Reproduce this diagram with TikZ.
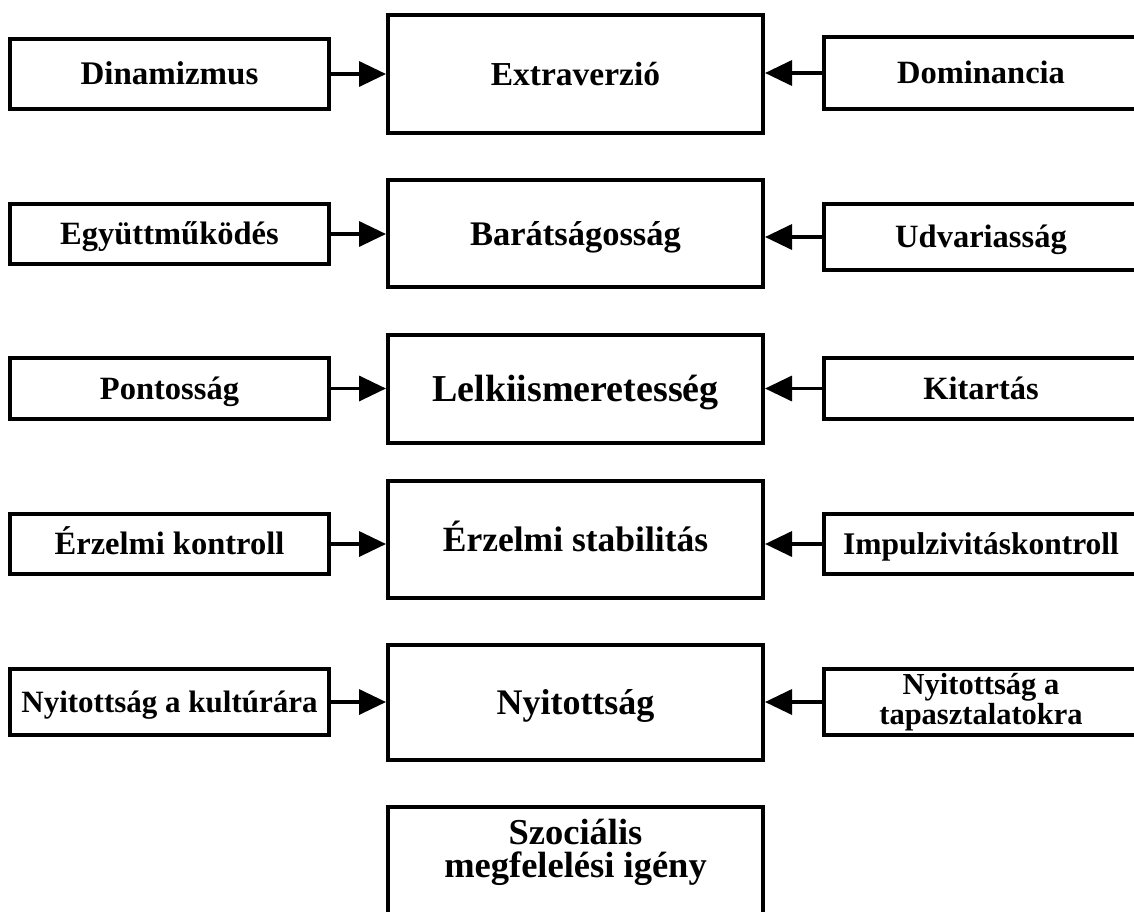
\documentclass[tikz,border=0pt]{standalone}
\usepackage{fontspec}
\setmainfont{Liberation Serif}
\usetikzlibrary{arrows.meta, positioning}
\tikzset{
    % Box styles with sharp corners
    plain box/.style={
        rectangle,
        draw=black,
        fill=white,
        line width=4pt,
        align=center,
        inner sep=0pt
    },
    side box/.style={
        plain box,
        minimum width=319pt,
        text height=21.5pt,
        text depth=0pt,
        font=\fontsize{32.5}{32}\selectfont\bfseries
    },
    right box/.style={
        side box,
        minimum width=314pt
    },
    main box/.style={
        plain box,
        minimum width=375pt,
        text height=23.5pt,
        text depth=0pt,
        font=\fontsize{35}{32}\selectfont\bfseries
    },
    arrow style/.style={
        -{Triangle[length=27pt,width=25pt]},
        line width=3.5pt,
        black
    }
}
\begin{document}
\begin{tikzpicture}[x=1pt, y=1pt]
        \clip (0,0) rectangle (1134,-911);

        % Row 1
        \node[main box, minimum height=118pt, font=\fontsize{33.5}{32}\selectfont\bfseries] (extra) at (575.5,-74) {Extraverzió};
        \node[side box, minimum height=70pt, font=\fontsize{33}{32}\selectfont\bfseries] (dinam) at (169.5,-74) {Dinamizmus};
        \node[right box, minimum height=72pt] (domin) at (981,-73) {Dominancia};

        % Row 2
        \node[main box, minimum height=107pt, font=\fontsize{34.5}{32}\selectfont\bfseries] (barat) at (575.5,-233.5) {Barátságosság};
        \node[side box, minimum height=60pt] (egyutt) at (169.5,-234) {Együttműködés};
        \node[right box, minimum height=66pt] (udvar) at (981,-237) {Udvariasság};

        % Row 3
        \node[main box, minimum height=108pt, text height=25pt, font=\fontsize{38}{32}\selectfont\bfseries] (lelki) at (575.5,-389) {Lelkiismeretesség};
        \node[side box, minimum height=61pt] (ponto) at (169.5,-388.5) {Pontosság};
        \node[right box, minimum height=61pt] (kitart) at (981,-388.5) {Kitartás};

        % Row 4
        \node[main box, minimum height=117pt, font=\fontsize{35.5}{32}\selectfont\bfseries] (erzstab) at (575.5,-539.5) {Érzelmi stabilitás};
        \node[side box, minimum height=60pt] (erzkont) at (169.5,-544) {Érzelmi kontroll};
        \node[right box, minimum height=60pt, text height=21pt, font=\fontsize{31.5}{32}\selectfont\bfseries] (impulz) at (981,-544) {Impulzivitáskontroll};

        % Row 5
        \node[main box, minimum height=115pt, font=\fontsize{36}{32}\selectfont\bfseries] (nyit) at (575.5,-702.5) {Nyitottság};
        \node[side box, minimum height=66pt, text height=20.5pt, font=\fontsize{31}{32}\selectfont\bfseries] (nyitkult) at (169.5,-702) {Nyitottság a kultúrára};
        \node[plain box, minimum width=314pt, minimum height=66pt, font=\fontsize{30.5}{30}\selectfont\bfseries] (nyittap) at (981,-702) {Nyitottság a\\tapasztalatokra};

        % Row 6 (box runs past the lower edge)
        \node[plain box, minimum width=375pt, minimum height=130pt, anchor=north] (szoc) at (575.5,-805) {};
        \node[font=\fontsize{36.5}{33}\selectfont\bfseries, align=center] (szoctext) at (575.5,-852.5) {Szociális\\megfelelési igény};

        % Arrows from the left
        \draw[arrow style] (dinam.east) -- (dinam.east -| extra.west);
        \draw[arrow style] (egyutt.east) -- (egyutt.east -| barat.west);
        \draw[arrow style] (ponto.east) -- (ponto.east -| lelki.west);
        \draw[arrow style] (erzkont.east) -- (erzkont.east -| erzstab.west);
        \draw[arrow style] (nyitkult.east) -- (nyitkult.east -| nyit.west);

        % Arrows from the right
        \draw[arrow style] (domin.west) -- (domin.west -| extra.east);
        \draw[arrow style] (udvar.west) -- (udvar.west -| barat.east);
        \draw[arrow style] (kitart.west) -- (kitart.west -| lelki.east);
        \draw[arrow style] (impulz.west) -- (impulz.west -| erzstab.east);
        \draw[arrow style] (nyittap.west) -- (nyittap.west -| nyit.east);
    \end{tikzpicture}
\end{document}
